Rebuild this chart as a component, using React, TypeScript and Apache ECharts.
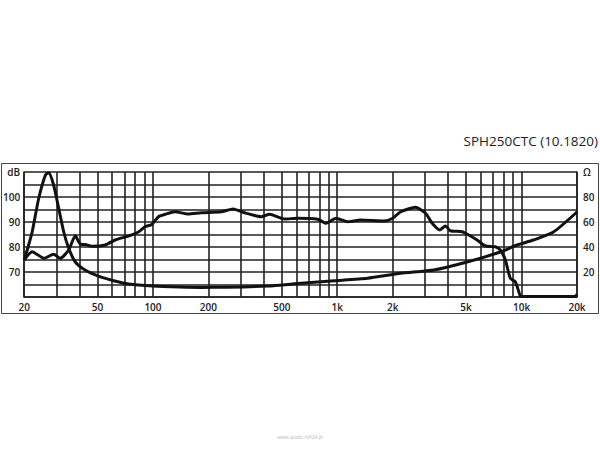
import React, { useEffect, useRef } from "react";
import * as echarts from "echarts";

const xLabelFreqs = [20, 50, 100, 200, 500, 1000, 2000, 5000, 10000, 20000];
const gridFreqs = [
  20, 30, 40, 50, 60, 70, 80, 90, 100, 200, 300, 400, 500, 600, 700, 800, 900,
  1000, 2000, 3000, 4000, 5000, 6000, 7000, 8000, 9000, 10000, 20000,
];

const splFreqs = [
  20, 22.1, 25.6, 28.9, 31.4, 34.9, 37.9, 40.4, 42.9, 46.6, 55, 62.3, 73.6, 83.4,
  90.5, 98.5, 107, 116, 131.5, 155, 183, 235, 272, 314, 387, 429, 517, 611, 783,
  869, 985, 1138, 1343, 1795, 2000, 2210, 2663, 3015, 3275, 3605, 3865, 4110,
  4760, 5170, 5740, 6370, 7210, 7670, 8170, 8690, 9250, 9840, 10000, 19500, 20000,
];
const splValues = [
  74.8, 78.1, 75.5, 77.1, 75.5, 78.8, 84.5, 81.1, 81, 80.3, 80.8, 82.8, 84.4, 86,
  88.1, 89, 92.1, 93, 94.1, 93.2, 93.7, 94.1, 95.2, 93.7, 92.1, 93.1, 91.2, 91.5,
  91.1, 89.5, 91.5, 90.1, 90.8, 90.4, 91.5, 94.1, 95.9, 93.5, 89.5, 86.8, 88.4,
  86.5, 86.1, 84.8, 82.8, 80.4, 80.1, 78.8, 74.8, 67.5, 66.1, 60.4, 60.2, 60.2, 61,
];

const impFreqs = [
  20, 21, 22.1, 24, 26.1, 27.2, 28.9, 30.8, 32.8, 34.9, 37.9, 42.8, 51, 62, 73.6,
  100, 140, 183, 250, 420, 636, 964, 1460, 2210, 3340, 5065, 7670, 9440, 11610,
  14900, 20000,
];
const impValues = [
  29.6, 40, 52, 79, 97.6, 99.5, 89.6, 71, 52, 39, 28, 21.6, 16.5, 12.8, 10.4, 8.8,
  8, 7.7, 7.8, 8.8, 11, 13, 15, 19, 21.6, 28, 36, 41.6, 45.6, 52, 68,
];

const dbLabels = [70, 80, 90, 100];
const ohmLabels = [20, 40, 60, 80];

const fmtFreq = (f: number) => (f >= 1000 ? f / 1000 + "k" : String(f));
const lg = (f: number) => Math.log10(f);

export default function App() {
  const ref = useRef<HTMLDivElement>(null);
  useEffect(() => {
    if (!ref.current) return;
    const chart = echarts.init(ref.current, null, { renderer: "svg" });
    const font = "'Open Sans', 'DejaVu Sans', sans-serif";
    const gridColor = "#222";
    chart.setOption({
      animation: false,
      backgroundColor: "#ffffff",
      grid: { left: 22, right: 23, top: 172, bottom: 153, show: false },
      xAxis: {
        type: "value",
        min: lg(20),
        max: lg(20000),
        axisLine: { show: true, lineStyle: { color: gridColor, width: 1.6 } },
        axisTick: {
          show: false,
          customValues: gridFreqs.map(lg),
        },
        splitLine: { show: true, lineStyle: { color: gridColor, width: 1.6 } },
        axisLabel: {
          customValues: xLabelFreqs.map(lg),
          formatter: (v: number) => fmtFreq(Math.round(Math.pow(10, v))),
          color: "#222",
          fontFamily: font,
          fontSize: 10,
          fontWeight: 600,
          margin: 5,
        },
      },
      yAxis: [
        {
          type: "value",
          min: 60,
          max: 110,
          interval: 5,
          axisLine: { show: true, lineStyle: { color: gridColor, width: 1.6 } },
          axisTick: { show: false },
          splitLine: { show: true, lineStyle: { color: gridColor, width: 1.6 } },
          axisLabel: {
            formatter: (v: number) =>
              v === 110 ? "dB" : dbLabels.includes(v) ? String(v) : "",
            color: "#222",
            fontFamily: font,
            fontSize: 10,
            fontWeight: 600,
            margin: 4,
          },
        },
        {
          type: "value",
          min: 0,
          max: 100,
          interval: 10,
          position: "right",
          axisLine: { show: true, lineStyle: { color: gridColor, width: 1.6 } },
          axisTick: { show: false },
          splitLine: { show: false },
          axisLabel: {
            formatter: (v: number) =>
              v === 100 ? "Ω" : ohmLabels.includes(v) ? String(v) : "",
            color: "#222",
            fontFamily: font,
            fontSize: 10,
            fontWeight: 600,
            margin: 6,
          },
        },
      ],
      graphic: [
        {
          type: "rect",
          shape: { x: 1.5, y: 163.5, width: 597, height: 150 },
          style: { fill: "none", stroke: "#444", lineWidth: 1 },
          silent: true,
        },
        {
          type: "text",
          x: 598,
          y: 141,
          style: {
            text: "SPH250CTC (10.1820)",
            fill: "#222",
            font: `13.5px ${font}`,
            textAlign: "right",
            textVerticalAlign: "middle",
          },
        },
        {
          type: "text",
          x: 300,
          y: 437,
          style: {
            text: "www.audio.hifi24.pl",
            fill: "#bbb",
            font: `5px ${font}`,
            textAlign: "center",
            textVerticalAlign: "middle",
          },
        },
      ],
      series: [
        {
          type: "line",
          yAxisIndex: 0,
          data: splFreqs.map((f, i) => [lg(f), splValues[i]]),
          showSymbol: false,
          smooth: 0.2,
          lineStyle: { color: "#111", width: 3 },
          clip: true,
        },
        {
          type: "line",
          yAxisIndex: 1,
          data: impFreqs.map((f, i) => [lg(f), impValues[i]]),
          showSymbol: false,
          smooth: 0.2,
          lineStyle: { color: "#111", width: 3 },
          clip: true,
        },
      ],
    });
    return () => chart.dispose();
  }, []);
  return (
    <div
      ref={ref}
      style={{ position: "fixed", left: 0, top: 0, width: 600, height: 450 }}
    />
  );
}
